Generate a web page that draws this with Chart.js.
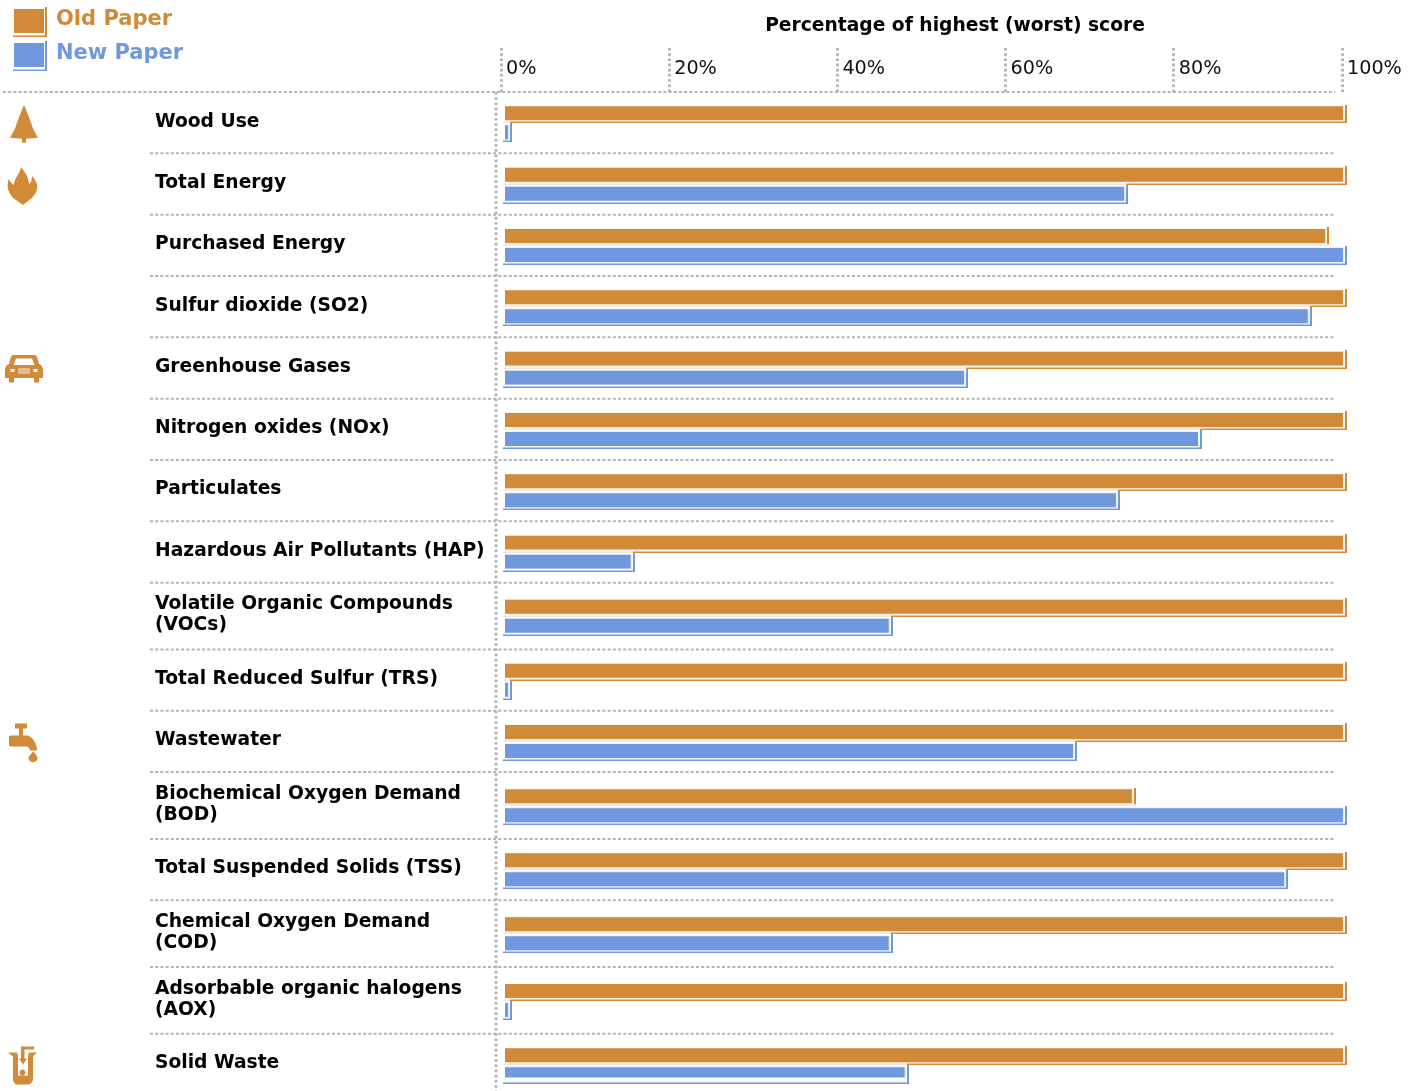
<!DOCTYPE html>
<html>
<head>
<meta charset="utf-8">
<title>Old Paper vs New Paper</title>
<script src="https://cdn.jsdelivr.net/npm/chart.js@4"></script>
<style>
  html, body { margin: 0; padding: 0; background: #fff; overflow: hidden; }
  canvas { display: block; }
</style>
</head>
<body>
<canvas id="paper" width="1417" height="1091"></canvas>
<script>
// Chart data
const categories = [
  'Wood Use', 'Total Energy', 'Purchased Energy', 'Sulfur dioxide (SO2)',
  'Greenhouse Gases', 'Nitrogen oxides (NOx)', 'Particulates',
  'Hazardous Air Pollutants (HAP)', ['Volatile Organic Compounds', '(VOCs)'],
  'Total Reduced Sulfur (TRS)', 'Wastewater', ['Biochemical Oxygen Demand', '(BOD)'],
  'Total Suspended Solids (TSS)', ['Chemical Oxygen Demand', '(COD)'],
  ['Adsorbable organic halogens', '(AOX)'], 'Solid Waste'
];
const oldPaper = [100, 100, 97.9, 100, 100, 100, 100, 100, 100, 100, 100, 74.8, 100, 100, 100, 100];
const newPaper = [0.35, 73.9, 100, 95.8, 54.8, 82.7, 72.9, 15.0, 45.8, 0.35, 67.8, 100, 93.0, 45.8, 0.35, 47.7];
const tickValues = [0, 20, 40, 60, 80, 100];
const axisTitle = 'Percentage of highest (worst) score';
const seriesNames = ['Old Paper', 'New Paper'];
const iconRows = { tree: 0, flame: 1, car: 4, tap: 10, waste: 15 };

const ORANGE = '#d08a38';
const BLUE = '#6f98df';
const DOTS = '#b4b4b4';
const FONT = '"DejaVu Sans", Verdana, sans-serif';

// rows with a wrapped label are a bit taller
const ROW_H = 61.33;
const ROW_H_WRAPPED = 66.8;

class RowScale extends Chart.CategoryScale {
  rowTop(i) {
    let y = this.top;
    for (let k = 0; k < i; k++) y += Array.isArray(categories[k]) ? ROW_H_WRAPPED : ROW_H;
    return y;
  }
  getPixelForValue(value) {
    const h = Array.isArray(categories[value]) ? ROW_H_WRAPPED : ROW_H;
    return this.rowTop(value) + h / 2;
  }
}
RowScale.id = 'rows';
RowScale.defaults = Chart.CategoryScale.defaults;
Chart.register(RowScale);

// icons are drawn in a box whose origin is the left edge / centre of the row
const icons = {
  tree: { fill: 'M24 -18 L30 -3 L33 6 L38 15 L26 16 L26 20 L22 20 L22 16 L10 15 L15 6 L18 -3 Z' },
  flame: { fill: 'M21 -17 C25 -12 29 -6 29 0 C31 -1 32 -4 32 -8 C36 -4 38 1 37 5 C36 11 30 16 23 21 C16 16 10 13 8 5 C7 1 8 -3 9 -5 C10 -2 12 0 14 1 C14 -6 20 -10 21 -17 Z' },
  car: {
    fill: 'M13 -13 L35 -13 C37 -13 38 -8 39 -4 C42 -3 43 0 43 3 L43 10 L39 10 L39 14.5 L34 14.5 L34 10 L14 10 L14 14.5 L9 14.5 L9 10 L5 10 L5 3 C5 0 6 -3 9 -4 C10 -8 11 -13 13 -13 Z',
    holes: ['M16 -9.5 L32 -9.5 L34.5 -3 L13.5 -3 Z', 'M10.5 1 h4 v3 h-4 Z', 'M33.5 1 h4 v3 h-4 Z'],
    pale: 'M18 0 h12 v6 h-12 Z'
  },
  tap: { fill: 'M15 -18 L27 -18 L27 -13 L23 -13 L23 -6 L28 -6 C33 -4 37 2 37 9 L30 9 C30 7 28 5 26 5 L11 5 L9 4 L9 -5 L11 -6 L19 -6 L19 -13 L15 -13 Z M33 10 C36 13 38 15 37.5 17 C36.5 22 29.5 22 28.5 17 C28 15 31 13 33 10 Z' },
  waste: {
    fill: 'M8 -12 L17 -12 L18 -9 L18 11 L28 11 L28 -9 L29 -12 L37 -12 L33 -8 L33 14 C33 18 30 20 27 20 L18 20 C15 20 13 18 13 14 L13 -8 Z M21 -18 L34 -18 L34 -15 L24.5 -15 L24.5 -6 L27 -6 L23 0 L19 -6 L21 -6 Z M22.5 5 a3 3 0 1 0 0.01 0 Z'
  }
};

function drawIcon(ctx, name, y) {
  const ic = icons[name];
  ctx.save();
  ctx.translate(0, y);
  ctx.filter = 'blur(0.5px)';
  ctx.fillStyle = ORANGE;
  ctx.fill(new Path2D(ic.fill));
  if (ic.holes) {
    ctx.fillStyle = '#fff';
    ic.holes.forEach(p => ctx.fill(new Path2D(p)));
  }
  if (ic.pale) {
    ctx.fillStyle = '#e6bd8c';
    ctx.fill(new Path2D(ic.pale));
  }
  ctx.restore();
}

function dotted(ctx, x1, y1, x2, y2, width, dash) {
  ctx.save();
  ctx.strokeStyle = DOTS;
  ctx.lineWidth = width;
  ctx.setLineDash(dash);
  ctx.beginPath();
  ctx.moveTo(x1, y1);
  ctx.lineTo(x2, y2);
  ctx.stroke();
  ctx.restore();
}

// the little L shaped offset edge under and right of a filled box
function drawEdge(ctx, color, left, right, top, bottom) {
  const b = Math.round(bottom);
  ctx.fillStyle = color;
  ctx.fillRect(left, b - 1.5, right - left, 1.5);
  ctx.fillRect(Math.round(right) - 2, Math.round(top), 2, b - Math.round(top));
}

const paperPlugin = {
  id: 'paperPlugin',
  beforeDatasetsDraw(chart) {
    const { ctx, scales: { y } } = chart;
    // row separators
    dotted(ctx, 3, y.top, 1335, y.top, 2, [3, 2.2]);
    for (let i = 1; i < categories.length; i++) {
      const py = y.rowTop(i);
      dotted(ctx, 150, py, 1335, py, 2, [3, 2.2]);
    }
    dotted(ctx, y.right, y.top, y.right, chart.height, 3, [2.6, 2.6]);
    // icons
    Object.keys(iconRows).forEach(n => drawIcon(ctx, n, y.getPixelForValue(iconRows[n])));
  },
  afterDatasetsDraw(chart) {
    const { ctx } = chart;
    const oldBars = chart.getDatasetMeta(0).data;
    const newBars = chart.getDatasetMeta(1).data;
    oldBars.forEach((b, i) => {
      const n = newBars[i];
      // soft rim on the fills
      ctx.save();
      ctx.lineWidth = 1;
      ctx.strokeStyle = 'rgba(208,138,56,0.16)';
      ctx.strokeRect(b.base + 0.5, b.y - 6.7, b.x - b.base + 0.2, 14.4);
      ctx.strokeStyle = 'rgba(111,152,223,0.16)';
      ctx.strokeRect(n.base + 0.5, n.y - 7.2, n.x - n.base + 0.2, 14.4);
      ctx.restore();
      drawEdge(ctx, ORANGE, b.base - 2, b.x + 3.8, b.y - 8.5, b.y + 10.3);
      // the new paper box sits on top of the old paper edge and washes it out
      ctx.fillStyle = 'rgba(255,255,255,0.78)';
      ctx.fillRect(n.base - 2, Math.round(b.y + 10.3) - 2, n.x - n.base + 4.2, 3);
      drawEdge(ctx, BLUE, n.base - 2, n.x + 3.8, n.y - 8.8, n.y + 10.3);
    });
  },
  afterDraw(chart) {
    const { ctx } = chart;
    const rows = [
      { color: ORANGE, top: 9, text: seriesNames[0], ty: 20 },
      { color: BLUE, top: 43, text: seriesNames[1], ty: 54 }
    ];
    ctx.save();
    rows.forEach(r => {
      ctx.fillStyle = r.color;
      ctx.fillRect(14, r.top, 30, 24);
      drawEdge(ctx, r.color, 13, 47, r.top - 2, r.top + 28);
      ctx.fillStyle = r.color;
      ctx.font = 'bold 21px ' + FONT;
      ctx.textAlign = 'left';
      ctx.textBaseline = 'middle';
      ctx.fillText(r.text, 56, r.ty);
    });
    ctx.restore();
  }
};

new Chart(document.getElementById('paper').getContext('2d'), {
  type: 'bar',
  data: {
    labels: categories,
    datasets: [
      { label: seriesNames[0], data: oldPaper, backgroundColor: ORANGE },
      { label: seriesNames[1], data: newPaper, backgroundColor: BLUE }
    ].map(d => Object.assign(d, {
      xAxisID: 'xb',
      barThickness: 19,
      borderSkipped: false,
      borderColor: 'rgba(255,255,255,0)',
      borderWidth: { top: 3, bottom: 2.7, left: 0, right: 0 }
    }))
  },
  options: {
    indexAxis: 'y',
    responsive: false,
    animation: false,
    layout: { padding: { left: 155, right: 3, top: 0, bottom: 0 } },
    plugins: {
      legend: { display: false },
      title: { display: false },
      tooltip: { enabled: false }
    },
    scales: {
      // ticks run 8.41px per percent from x=501
      x: {
        type: 'linear',
        position: 'top',
        min: -5 / 8.41,
        max: 913 / 8.41,
        afterBuildTicks: s => { s.ticks = tickValues.map(v => ({ value: v })); },
        afterFit: s => { s.height = 92; },
        border: { display: false },
        grid: {
          drawOnChartArea: false,
          drawTicks: true,
          tickLength: 44,
          tickWidth: 3,
          tickColor: DOTS,
          tickBorderDash: [2.6, 2.6]
        },
        ticks: {
          callback: v => v + '%',
          align: 'start',
          labelOffset: 5,
          padding: -33,
          maxRotation: 0,
          autoSkip: false,
          color: '#111',
          font: { family: FONT, size: 19.2 }
        },
        title: {
          display: true,
          text: axisTitle,
          color: '#000',
          padding: { top: 15, bottom: 0 },
          font: { family: FONT, size: 18.7, weight: 'bold' }
        }
      },
      // bars start a little right of the 0% tick and run 8.38px per percent
      xb: {
        type: 'linear',
        axis: 'x',
        position: 'top',
        display: false,
        min: -9 / 8.38,
        max: 909 / 8.38
      },
      y: {
        type: 'rows',
        afterFit: s => { s.width = 341; },
        grid: { display: false, drawTicks: false },
        border: { display: false },
        ticks: {
          crossAlign: 'far',
          autoSkip: false,
          labelOffset: -1,
          color: '#000',
          font: { family: FONT, size: 18.7, weight: 'bold', lineHeight: 1.12 }
        }
      }
    }
  },
  plugins: [paperPlugin]
});
</script>
</body>
</html>
